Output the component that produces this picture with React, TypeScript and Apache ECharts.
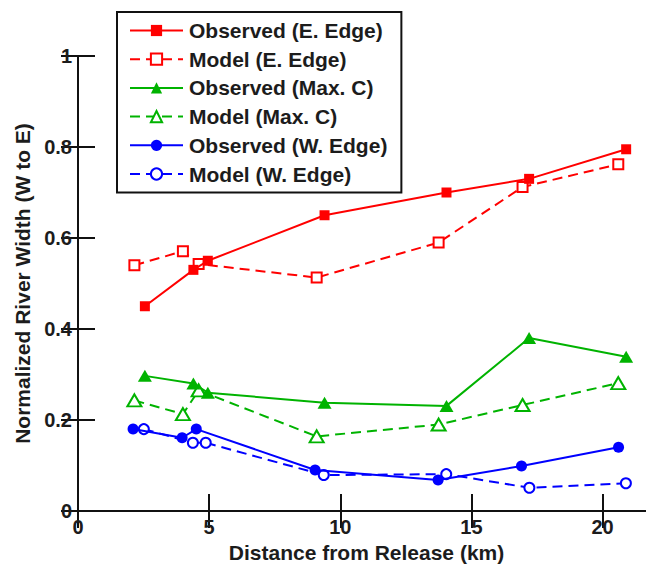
import React, { useEffect, useRef } from "react";
import * as echarts from "echarts";

// x positions (km)
const xSetA = [2.55, 4.4, 4.95, 9.4, 14.05, 17.2, 20.9];
const xSetB = [2.15, 4.0, 4.6, 9.1, 13.75, 16.95, 20.6];
const xBlueObs = [2.1, 3.97, 4.51, 9.04, 13.73, 16.91, 20.61];
const xBlueMod = [2.51, 4.38, 4.87, 9.37, 14.04, 17.21, 20.89];

// normalized widths
const obsEEdge = [0.45, 0.53, 0.55, 0.65, 0.7, 0.73, 0.795];
const modEEdge = [0.54, 0.571, 0.543, 0.513, 0.59, 0.712, 0.762];
const obsMaxC = [0.297, 0.28, 0.26, 0.238, 0.231, 0.38, 0.339];
const modMaxC = [0.243, 0.213, 0.265, 0.164, 0.19, 0.233, 0.281];
const obsWEdge = [0.18, 0.161, 0.18, 0.09, 0.068, 0.099, 0.14];
const modWEdge = [0.18, 0.15, 0.15, 0.079, 0.081, 0.051, 0.061];

const seriesNames = [
  "Observed (E. Edge)",
  "Model (E. Edge)",
  "Observed (Max. C)",
  "Model (Max. C)",
  "Observed (W. Edge)",
  "Model (W. Edge)",
];

const xTicks = [0, 5, 10, 15, 20];

const RED = "#ff0000";
const GREEN = "#00b300";
const BLUE = "#0000ff";
const FONT = "Liberation Sans, Arial, Helvetica, sans-serif";
const TXT = "#1c1c1c";

function pairs(xs: number[], ys: number[]) {
  return xs.map((x, i) => [x, ys[i]]);
}

export default function App() {
  const ref = useRef<HTMLDivElement>(null);
  useEffect(() => {
    if (!ref.current) return;
    const chart = echarts.init(ref.current, null, { renderer: "svg" });

    const mk = (
      name: string,
      xs: number[],
      ys: number[],
      color: string,
      symbol: string,
      size: number | number[],
      dashed: boolean
    ) => ({
      name,
      type: "line",
      xAxisIndex: 0,
      yAxisIndex: 0,
      data: pairs(xs, ys),
      symbol,
      symbolSize: size,
      showAllSymbol: true,
      lineStyle: { color, width: 2, type: dashed ? [10, 6] : "solid" },
      itemStyle: dashed
        ? { color, borderColor: color, borderWidth: 2 }
        : { color, borderWidth: 0 },
      emphasis: { disabled: true },
      z: dashed ? 2 : 3,
    });

    const axisLine = { show: true, lineStyle: { color: "#111", width: 2 } };
    const axisTick = { show: true, inside: true, length: 17, lineStyle: { color: "#111", width: 2 } };
    const tickStyle = { fontFamily: FONT, fontWeight: "bold", fontSize: 20, color: TXT };
    const titleStyle = { fontFamily: FONT, fontWeight: "bold", fontSize: 21, color: TXT };

    chart.setOption({
      animation: false,
      backgroundColor: "#ffffff",
      grid: {
        left: 78,
        top: 56,
        width: 577,
        height: 455,
        containLabel: false,
        outerBoundsMode: "none",
      },
      legend: {
        data: seriesNames,
        orient: "vertical",
        left: 117,
        top: 12,
        padding: [8, 14, 8, 12],
        itemWidth: 53,
        itemHeight: 14,
        itemGap: 7.7,
        backgroundColor: "#ffffff",
        borderColor: "#111",
        borderWidth: 2,
        borderRadius: 0,
        textStyle: { ...titleStyle, lineHeight: 21, padding: [0, 0, 0, 1] },
        selectedMode: false,
        z: 10,
      },
      xAxis: [
        {
          type: "value",
          min: 0,
          max: 22,
          interval: 5,
          position: "bottom",
          axisLine,
          axisTick,
          splitLine: { show: false },
          axisLabel: {
            ...tickStyle,
            margin: 6,
            formatter: (v: number) => (xTicks.includes(v) ? String(v) : ""),
          },
          name: "Distance from Release (km)",
          nameLocation: "middle",
          nameGap: 28,
          nameTextStyle: titleStyle,
        },
        {
          type: "value",
          min: 0,
          max: 22,
          interval: 5,
          position: "top",
          axisLine,
          axisTick,
          splitLine: { show: false },
          axisLabel: { show: false },
        },
      ],
      yAxis: [
        {
          type: "value",
          min: 0,
          max: 1,
          interval: 0.2,
          position: "left",
          axisLine,
          axisTick,
          splitLine: { show: false },
          axisLabel: { ...tickStyle, margin: 6 },
          name: "Normalized River Width (W to E)",
          nameLocation: "middle",
          nameGap: 41,
          nameTextStyle: titleStyle,
        },
        {
          type: "value",
          min: 0,
          max: 1,
          interval: 0.2,
          position: "right",
          axisLine,
          axisTick,
          splitLine: { show: false },
          axisLabel: { show: false },
        },
      ],
      series: [
        mk(seriesNames[0], xSetA, obsEEdge, RED, "rect", 10, false),
        mk(seriesNames[1], xSetB, modEEdge, RED, "emptyRect", 10, true),
        mk(seriesNames[2], xSetA, obsMaxC, GREEN, "triangle", [14, 12], false),
        mk(seriesNames[3], xSetB, modMaxC, GREEN, "emptyTriangle", [14, 12], true),
        mk(seriesNames[4], xBlueObs, obsWEdge, BLUE, "circle", 11, false),
        mk(seriesNames[5], xBlueMod, modWEdge, BLUE, "emptyCircle", 10, true),
      ],
    });
    return () => chart.dispose();
  }, []);

  return <div ref={ref} style={{ width: 646, height: 564, position: "absolute", left: 0, top: 0 }} />;
}
